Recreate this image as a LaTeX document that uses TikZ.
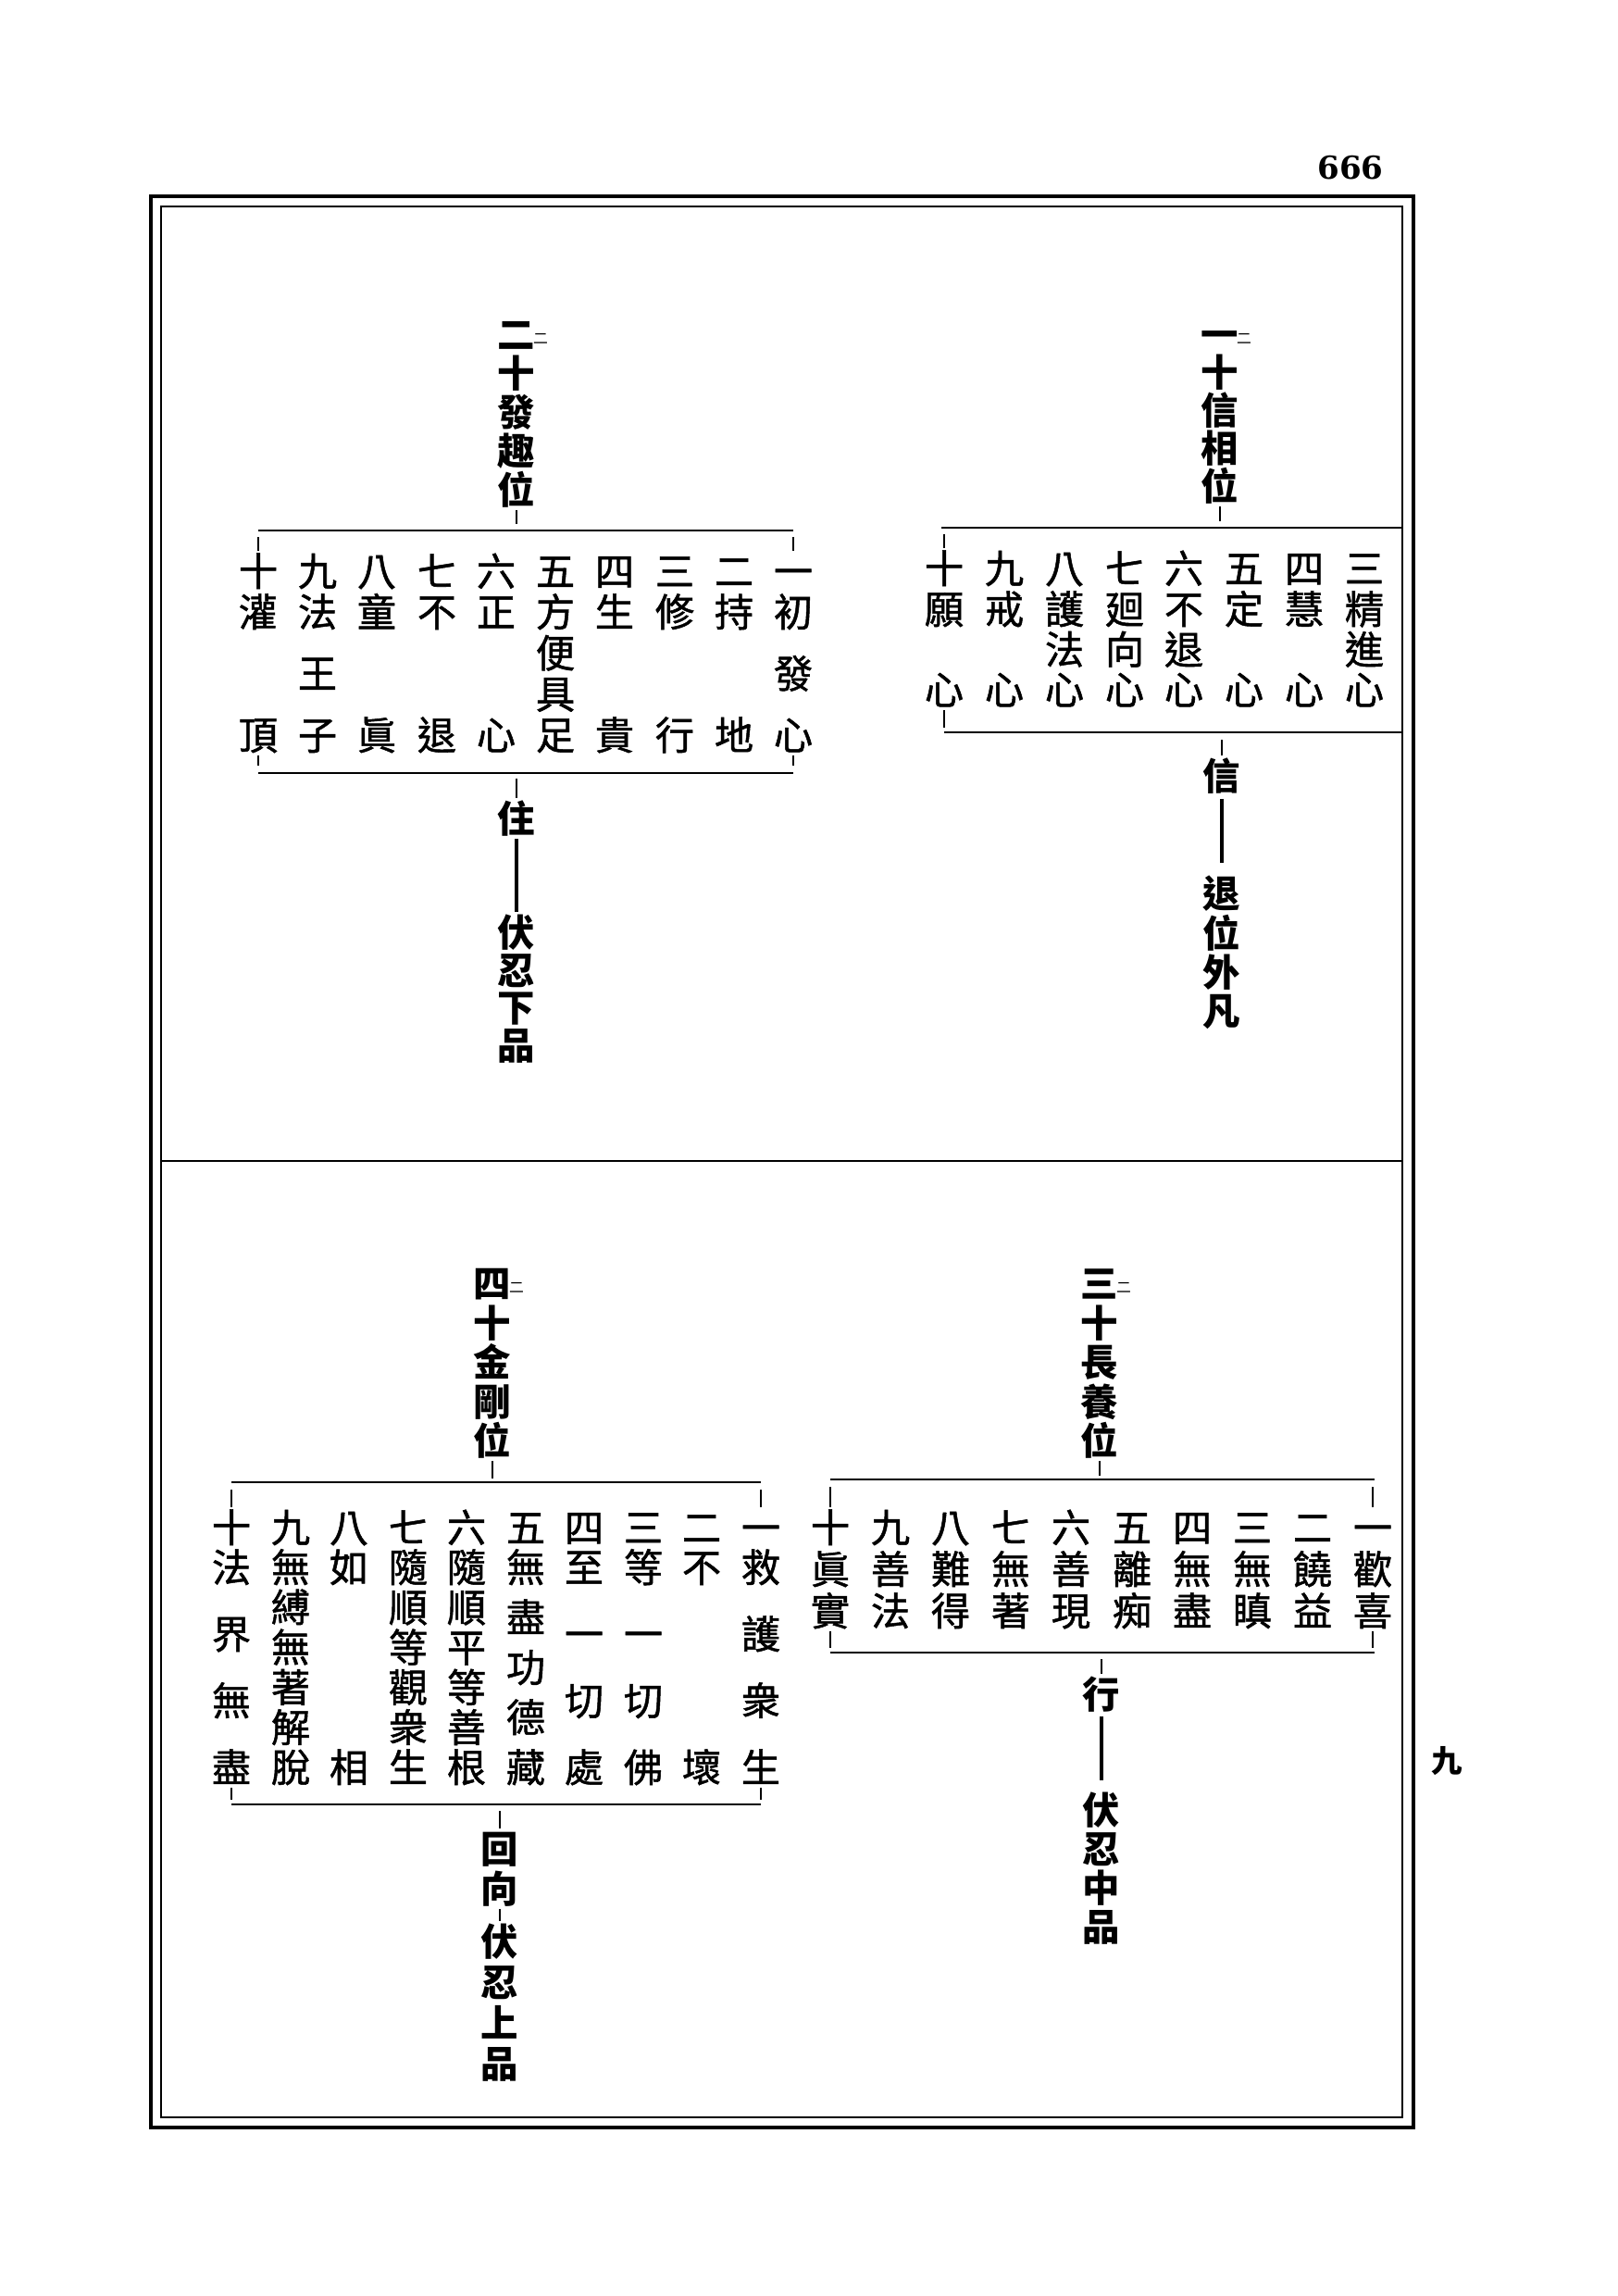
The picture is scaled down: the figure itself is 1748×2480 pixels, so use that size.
\documentclass[tikz,border=0pt]{standalone}
\usepackage{fontspec}
\usepackage{tikz}
\usetikzlibrary{positioning}
\setmainfont{DejaVu Serif}
\newfontfamily\cjk{Noto Sans CJK TC}
\newfontfamily\cjkmid[FakeBold=1.2]{Noto Sans CJK TC}

\newcommand{\stageitem}[4]{%
  \node[itemchar] (#1) at (#2,\rowA) {#3};
  \foreach \ch [count=\k] in {#4} {\xdef\nrest{\k}}
  \foreach \ch [count=\k] in {#4} {
    \pgfmathsetmacro{\yy}{\rowB+(\k-1)*(\rowZ-\rowB)/(\nrest-1)}
    \ifnum\k=\nrest\relax\def\nm{#1-z}\else\def\nm{#1-\k}\fi
    \node[itemchar] (\nm) at (#2,\yy) {\ch};
  }
}

\begin{document}
\begin{tikzpicture}[
    x=0.1mm, y=-0.1mm,
    itemchar/.style={font=\cjkmid\fontsize{12pt}{12pt}\selectfont, inner sep=0pt, text height=10.5pt, text depth=1.5pt},
    titlechar/.style={itemchar, font=\cjk\bfseries\fontsize{11.5pt}{11.5pt}\selectfont},
    labelchar/.style={titlechar},
    kaeri/.style={font=\cjk\fontsize{4.5pt}{4.5pt}\selectfont, inner sep=0pt},
    barline/.style={line width=0.28mm},
    notch/.style={line width=0.2mm},
    stemline/.style={line width=0.4mm}
  ]
  \fill[white] (0,0) rectangle (1748,2480);
  \useasboundingbox (0,0) rectangle (1748,2480);

  \draw[line width=0.35mm] (163,212) rectangle (1527,2298);
  \draw[line width=0.25mm] (174,223) rectangle (1515,2287);
  \draw[line width=0.25mm] (174,1254) -- (1515,1254);
  \node[font=\bfseries\fontsize{9.7pt}{9.7pt}\selectfont, inner sep=0pt] (folio) at (1459,181) {666};
  \node[font=\cjk\bfseries\fontsize{9.5pt}{9.5pt}\selectfont, inner sep=0pt] (leafnum) at (1563,1902) {九};

  % top right
  \foreach \ch [count=\k] in {一,十,信,相,位}
    \node[titlechar] (trt\k) at (1318,{361+(\k-1)*41}) {\ch};
  \node[kaeri] (trk) at (1344,366) {二};
  \coordinate (trtopL) at (1017,570);
  \coordinate (trtopR) at (1515,570);
  \coordinate (trbotL) at (1020,791);
  \coordinate (trbotR) at (1515,791);
  \draw[barline] (trtopL) -- (trtopR);
  \draw[barline] (trbotL) -- (trbotR);
  \draw[notch, shorten >=0.7mm] (trt5.south) -- (trt5.south |- trtopL);
  \def\rowA{614}\def\rowB{658}\def\rowZ{745}
  \stageitem{tr3}{1474}{三}{精,進,心}
  \stageitem{tr4}{1409}{四}{慧,心}
  \stageitem{tr5}{1344}{五}{定,心}
  \stageitem{tr6}{1279}{六}{不,退,心}
  \stageitem{tr7}{1215}{七}{廻,向,心}
  \stageitem{tr8}{1150}{八}{護,法,心}
  \stageitem{tr9}{1085}{九}{戒,心}
  \stageitem{tr10}{1020}{十}{願,心}
  \draw[notch, shorten >=0.7mm] (tr10.north) -- (tr10.north |- trtopL);
  \draw[notch, shorten >=0.5mm] (tr10-z.south) -- (tr10-z.south |- trbotL);
  \node[labelchar] (trlbl) at (1320,838) {信};
  \draw[notch, shorten <=0.8mm] (trlbl.north |- trbotL) -- (trlbl.north);
  \foreach \ch [count=\k] in {退,位,外,凡}
    \node[labelchar] (tro\k) at (1320,{965+(\k-1)*42.3}) {\ch};
  \draw[stemline, shorten <=0.3mm, shorten >=1.1mm] (trlbl.south) -- (tro1.north);

  % top left
  \foreach \ch [count=\k] in {二,十,發,趣,位}
    \node[titlechar] (tlt\k) at (558,{361+(\k-1)*42}) {\ch};
  \node[kaeri] (tlk) at (584,366) {二};
  \coordinate (tltopL) at (279,573);
  \coordinate (tltopR) at (857,573);
  \coordinate (tlbotL) at (279,835);
  \coordinate (tlbotR) at (857,835);
  \draw[barline] (tltopL) -- (tltopR);
  \draw[barline] (tlbotL) -- (tlbotR);
  \draw[notch, shorten >=0.7mm] (tlt5.south) -- (tlt5.south |- tltopL);
  \def\rowA{617}\def\rowB{661}\def\rowZ{794}
  \stageitem{tl1}{857}{一}{初,發,心}
  \stageitem{tl2}{793}{二}{持,地}
  \stageitem{tl3}{729}{三}{修,行}
  \stageitem{tl4}{664}{四}{生,貴}
  \stageitem{tl5}{600}{五}{方,便,具,足}
  \stageitem{tl6}{536}{六}{正,心}
  \stageitem{tl7}{472}{七}{不,退}
  \stageitem{tl8}{407}{八}{童,眞}
  \stageitem{tl9}{343}{九}{法,王,子}
  \stageitem{tl10}{279}{十}{灌,頂}
  \draw[notch, shorten >=0.7mm] (tl1.north) -- (tl1.north |- tltopL);
  \draw[notch, shorten >=0.7mm] (tl10.north) -- (tl10.north |- tltopL);
  \draw[notch, shorten >=0.8mm] (tl1-z.south) -- (tl1-z.south |- tlbotL);
  \draw[notch, shorten >=0.8mm] (tl10-z.south) -- (tl10-z.south |- tlbotL);
  \node[labelchar] (tllbl) at (558,884) {住};
  \draw[notch, shorten <=0.6mm] (tllbl.north |- tlbotL) -- (tllbl.north);
  \foreach \ch [count=\k] in {伏,忍,下,品}
    \node[labelchar] (tlo\k) at (558,{1007+(\k-1)*40.5}) {\ch};
  \draw[stemline] (tllbl.south) -- (tlo1.north);

  % bottom right
  \foreach \ch [count=\k] in {三,十,長,養,位}
    \node[titlechar] (brt\k) at (1188,{1386+(\k-1)*42.5}) {\ch};
  \node[kaeri] (brk) at (1214,1391) {二};
  \coordinate (brtopL) at (897,1598);
  \coordinate (brtopR) at (1485,1598);
  \coordinate (brbotL) at (897,1785);
  \coordinate (brbotR) at (1485,1785);
  \draw[barline] (brtopL) -- (brtopR);
  \draw[barline] (brbotL) -- (brbotR);
  \draw[notch, shorten >=0.4mm] (brt5.south) -- (brt5.south |- brtopL);
  \def\rowA{1650}\def\rowB{1695}\def\rowZ{1740}
  \stageitem{br1}{1483}{一}{歡,喜}
  \stageitem{br2}{1418}{二}{饒,益}
  \stageitem{br3}{1353}{三}{無,瞋}
  \stageitem{br4}{1288}{四}{無,盡}
  \stageitem{br5}{1223}{五}{離,痴}
  \stageitem{br6}{1157}{六}{善,現}
  \stageitem{br7}{1092}{七}{無,著}
  \stageitem{br8}{1027}{八}{難,得}
  \stageitem{br9}{962}{九}{善,法}
  \stageitem{br10}{897}{十}{眞,實}
  \draw[notch, shorten >=0.8mm] (br1.north) -- (br1.north |- brtopL);
  \draw[notch, shorten >=0.8mm] (br10.north) -- (br10.north |- brtopL);
  \draw[notch, shorten >=0.5mm] (br1-z.south) -- (br1-z.south |- brbotL);
  \draw[notch, shorten >=0.5mm] (br10-z.south) -- (br10-z.south |- brbotL);
  \node[labelchar] (brlbl) at (1190,1830) {行};
  \draw[notch, shorten <=0.7mm] (brlbl.north |- brbotL) -- (brlbl.north);
  \foreach \ch [count=\k] in {伏,忍,中,品}
    \node[labelchar] (bro\k) at (1190,{1955+(\k-1)*42}) {\ch};
  \draw[stemline, shorten <=0.2mm, shorten >=1mm] (brlbl.south) -- (bro1.north);

  % bottom left
  \foreach \ch [count=\k] in {四,十,金,剛,位}
    \node[titlechar] (blt\k) at (532,{1386+(\k-1)*42.5}) {\ch};
  \node[kaeri] (blk) at (558,1391) {二};
  \coordinate (bltopL) at (250,1601);
  \coordinate (bltopR) at (822,1601);
  \coordinate (blbotL) at (250,1949);
  \coordinate (blbotR) at (822,1949);
  \draw[barline] (bltopL) -- (bltopR);
  \draw[barline] (blbotL) -- (blbotR);
  \draw[notch, shorten >=0.4mm] (blt5.south) -- (blt5.south |- bltopL);
  \def\rowA{1650}\def\rowB{1693}\def\rowZ{1909}
  \stageitem{bl1}{822}{一}{救,護,衆,生}
  \stageitem{bl2}{758}{二}{不,壞}
  \stageitem{bl3}{695}{三}{等,一,切,佛}
  \stageitem{bl4}{631}{四}{至,一,切,處}
  \stageitem{bl5}{568}{五}{無,盡,功,德,藏}
  \stageitem{bl6}{504}{六}{隨,順,平,等,善,根}
  \stageitem{bl7}{441}{七}{隨,順,等,觀,衆,生}
  \stageitem{bl8}{377}{八}{如,相}
  \stageitem{bl9}{314}{九}{無,縛,無,著,解,脫}
  \stageitem{bl10}{250}{十}{法,界,無,盡}
  \draw[notch, shorten >=0.8mm] (bl1.north) -- (bl1.north |- bltopL);
  \draw[notch, shorten >=0.8mm] (bl10.north) -- (bl10.north |- bltopL);
  \draw[notch, shorten >=0.5mm] (bl1-z.south) -- (bl1-z.south |- blbotL);
  \draw[notch, shorten >=0.5mm] (bl10-z.south) -- (bl10-z.south |- blbotL);
  \node[labelchar] (bllbl1) at (540,1997) {回};
  \node[labelchar] (bllbl2) at (540,2040) {向};
  \draw[notch, shorten <=0.7mm] (bllbl1.north |- blbotL) -- (bllbl1.north);
  \foreach \ch [count=\k] in {伏,忍,上,品}
    \node[labelchar] (blo\k) at (540,{2097+(\k-1)*44}) {\ch};
  \draw[notch] (bllbl2.south) -- (blo1.north);
\end{tikzpicture}
\end{document}
